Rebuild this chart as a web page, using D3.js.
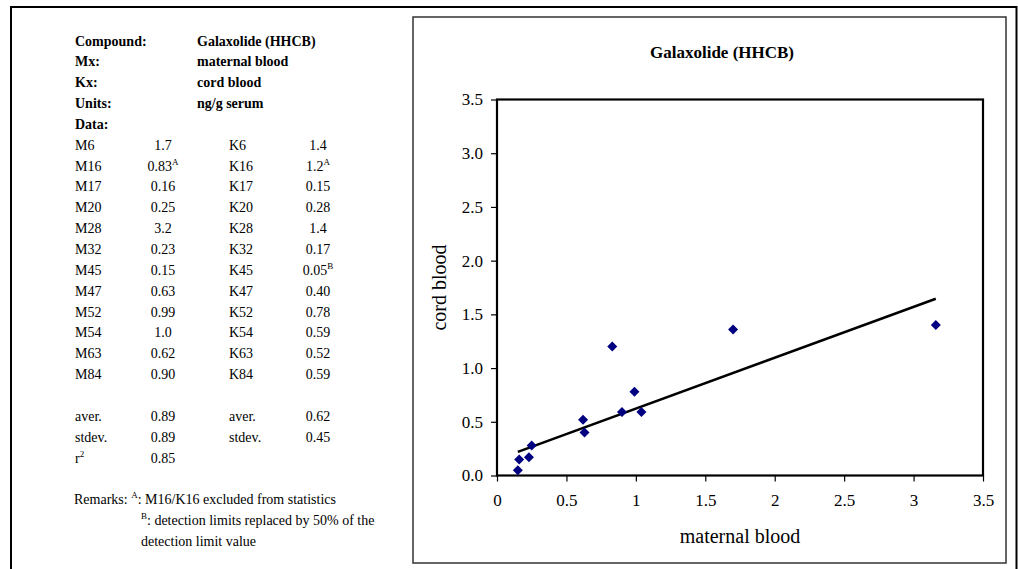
<!DOCTYPE html>
<html>
<head>
<meta charset="utf-8">
<script src="https://cdn.jsdelivr.net/npm/d3@7"></script>
<style>
  body { margin: 0; background: #fff; }
</style>
</head>
<body>
<svg id="chart" width="1018" height="569" style="font-family: 'Liberation Serif', serif"></svg>
<script>
// samples (M = maternal blood, K = cord blood)
var sampleIds = ["6", "16", "17", "20", "28", "32", "45", "47", "52", "54", "63", "84"];
var mText = ["1.7", "0.83", "0.16", "0.25", "3.2", "0.23", "0.15", "0.63", "0.99", "1.0", "0.62", "0.90"];
var kText = ["1.4", "1.2", "0.15", "0.28", "1.4", "0.17", "0.05", "0.40", "0.78", "0.59", "0.52", "0.59"];
var mNote = ["", "A", "", "", "", "", "", "", "", "", "", ""];
var kNote = ["", "A", "", "", "", "", "B", "", "", "", "", ""];
// plotted values
var mValues = [1.70, 0.83, 0.16, 0.25, 3.16, 0.23, 0.15, 0.63, 0.99, 1.04, 0.62, 0.90];
var kValues = [1.36, 1.20, 0.15, 0.28, 1.40, 0.17, 0.05, 0.40, 0.78, 0.59, 0.52, 0.59];
var excluded = ["16"];

var headerLabels = ["Compound:", "Mx:", "Kx:", "Units:", "Data:"];
var headerValues = ["Galaxolide (HHCB)", "maternal blood", "cord blood", "ng/g serum", ""];
var statLabels = ["aver.", "stdev.", "r"];
var statM = ["0.89", "0.89", "0.85"];
var statK = ["0.62", "0.45", ""];

var xTicks = [0, 0.5, 1, 1.5, 2, 2.5, 3, 3.5];
var yTicks = [0, 0.5, 1, 1.5, 2, 2.5, 3, 3.5];

function drawChart() {
    var svg = d3.select("#chart");

    // frames
    svg.append("path")
        .attr("d", "M11,575 V7 H1016.5 V575")
        .attr("fill", "none").attr("stroke", "#000").attr("stroke-width", 2);
    svg.append("rect")
        .attr("x", 413).attr("y", 17).attr("width", 593).attr("height", 546)
        .attr("fill", "none").attr("stroke", "#333").attr("stroke-width", 1.5);

    // ---- table on the left
    var rowH = 20.85, row0 = 45.5;
    var colLab = 75, colM = 163, colKLab = 229, colK = 318, colHead = 197;
    var table = svg.append("g").style("font-size", "14px");
    function rowY(i) { return row0 + i * rowH; }

    headerLabels.forEach(function(d, i) {
        table.append("text").attr("x", colLab).attr("y", rowY(i))
            .style("font-weight", "bold").text(d);
        table.append("text").attr("x", colHead).attr("y", rowY(i))
            .style("font-weight", "bold").text(headerValues[i]);
    });

    function valueCell(x, y, val, note) {
        var t = table.append("text").attr("x", x).attr("y", y).attr("text-anchor", "middle");
        t.append("tspan").text(val);
        if (note) t.append("tspan").attr("dy", -6).style("font-size", "9px").text(note);
    }

    sampleIds.forEach(function(d, i) {
        var y = rowY(5 + i);
        table.append("text").attr("x", colLab).attr("y", y).text("M" + d);
        valueCell(colM, y, mText[i], mNote[i]);
        table.append("text").attr("x", colKLab).attr("y", y).text("K" + d);
        valueCell(colK, y, kText[i], kNote[i]);
    });

    statLabels.forEach(function(d, i) {
        var y = rowY(18 + i);
        var t = table.append("text").attr("x", colLab).attr("y", y);
        t.append("tspan").text(d);
        if (i == 2) t.append("tspan").attr("dy", -6).style("font-size", "9px").text("2");
        valueCell(colM, y, statM[i], "");
        if (statK[i]) {
            table.append("text").attr("x", colKLab).attr("y", y).text(d);
            valueCell(colK, y, statK[i], "");
        }
    });

    var r1 = table.append("text").attr("x", 74).attr("y", rowY(22));
    r1.append("tspan").text("Remarks: ");
    r1.append("tspan").attr("dy", -6).style("font-size", "9px").text("A");
    r1.append("tspan").attr("dy", 6).text(": M16/K16 excluded from statistics");
    var r2 = table.append("text").attr("x", 141).attr("y", rowY(23));
    r2.append("tspan").attr("dy", -6).style("font-size", "9px").text("B");
    r2.append("tspan").attr("dy", 6).text(": detection limits replaced by 50% of the");
    table.append("text").attr("x", 141).attr("y", rowY(24)).text("detection limit value");

    // ---- scatter chart
    var pLeft = 497, pRight = 983, pTop = 99.5, pBottom = 475.5;
    var x = d3.scaleLinear().domain([0, 3.5]).range([pLeft, pRight]);
    var y = d3.scaleLinear().domain([0, 3.5]).range([pBottom, pTop]);

    svg.append("text")
        .attr("x", 722).attr("y", 58).attr("text-anchor", "middle")
        .style("font-size", "17px").style("font-weight", "bold")
        .text("Galaxolide (HHCB)");

    var xAxis = svg.append("g")
        .attr("transform", "translate(0," + pBottom + ")")
        .call(d3.axisBottom(x).tickValues(xTicks).tickSize(6).tickPadding(12)
            .tickFormat(function(d) { return String(d); }));
    var yAxis = svg.append("g")
        .attr("transform", "translate(" + pLeft + ",0)")
        .call(d3.axisLeft(y).tickValues(yTicks).tickSize(6).tickPadding(8)
            .tickFormat(d3.format(".1f")));
    [xAxis, yAxis].forEach(function(a) {
        a.attr("font-family", null).attr("font-size", null);
        a.select(".domain").remove();
        a.selectAll("line").attr("stroke", "#000").attr("stroke-width", 1.2);
        a.selectAll("text").style("font-size", "17px");
    });

    svg.append("rect")
        .attr("x", pLeft).attr("y", pTop).attr("width", pRight - pLeft).attr("height", pBottom - pTop)
        .attr("fill", "none").attr("stroke", "#000").attr("stroke-width", 2.2);

    // least squares trend line without the excluded sample
    var fitX = [], fitY = [];
    sampleIds.forEach(function(d, i) {
        if (excluded.indexOf(d) < 0) { fitX.push(mValues[i]); fitY.push(kValues[i]); }
    });
    var mx = d3.mean(fitX), my = d3.mean(fitY);
    var sxy = d3.sum(fitX, function(v, i) { return (v - mx) * (fitY[i] - my); });
    var sxx = d3.sum(fitX, function(v) { return (v - mx) * (v - mx); });
    var slope = sxy / sxx, icpt = my - slope * mx;
    var ends = d3.extent(fitX);
    svg.append("line")
        .attr("x1", x(ends[0])).attr("y1", y(icpt + slope * ends[0]))
        .attr("x2", x(ends[1])).attr("y2", y(icpt + slope * ends[1]))
        .attr("stroke", "#000").attr("stroke-width", 2.5);

    var diamond = d3.symbol().type(d3.symbolSquare).size(50);
    svg.selectAll(".pt")
        .data(sampleIds)
        .enter()
        .append("path")
        .attr("class", "pt")
        .attr("d", diamond)
        .attr("transform", function(d, i) {
            return "translate(" + x(mValues[i]) + "," + y(kValues[i]) + ") rotate(45)";
        })
        .attr("fill", "#000080");

    svg.append("text")
        .attr("x", (pLeft + pRight) / 2).attr("y", 543).attr("text-anchor", "middle")
        .style("font-size", "20px").text("maternal blood");
    svg.append("text")
        .attr("transform", "translate(446," + (pTop + pBottom) / 2 + ") rotate(-90)")
        .attr("text-anchor", "middle")
        .style("font-size", "20px").text("cord blood");

    // every label in the serif face
    svg.selectAll("text")
        .style("font-family", "'Liberation Serif', 'Times New Roman', serif")
        .attr("fill", "#000");
}

drawChart();
</script>
</body>
</html>
